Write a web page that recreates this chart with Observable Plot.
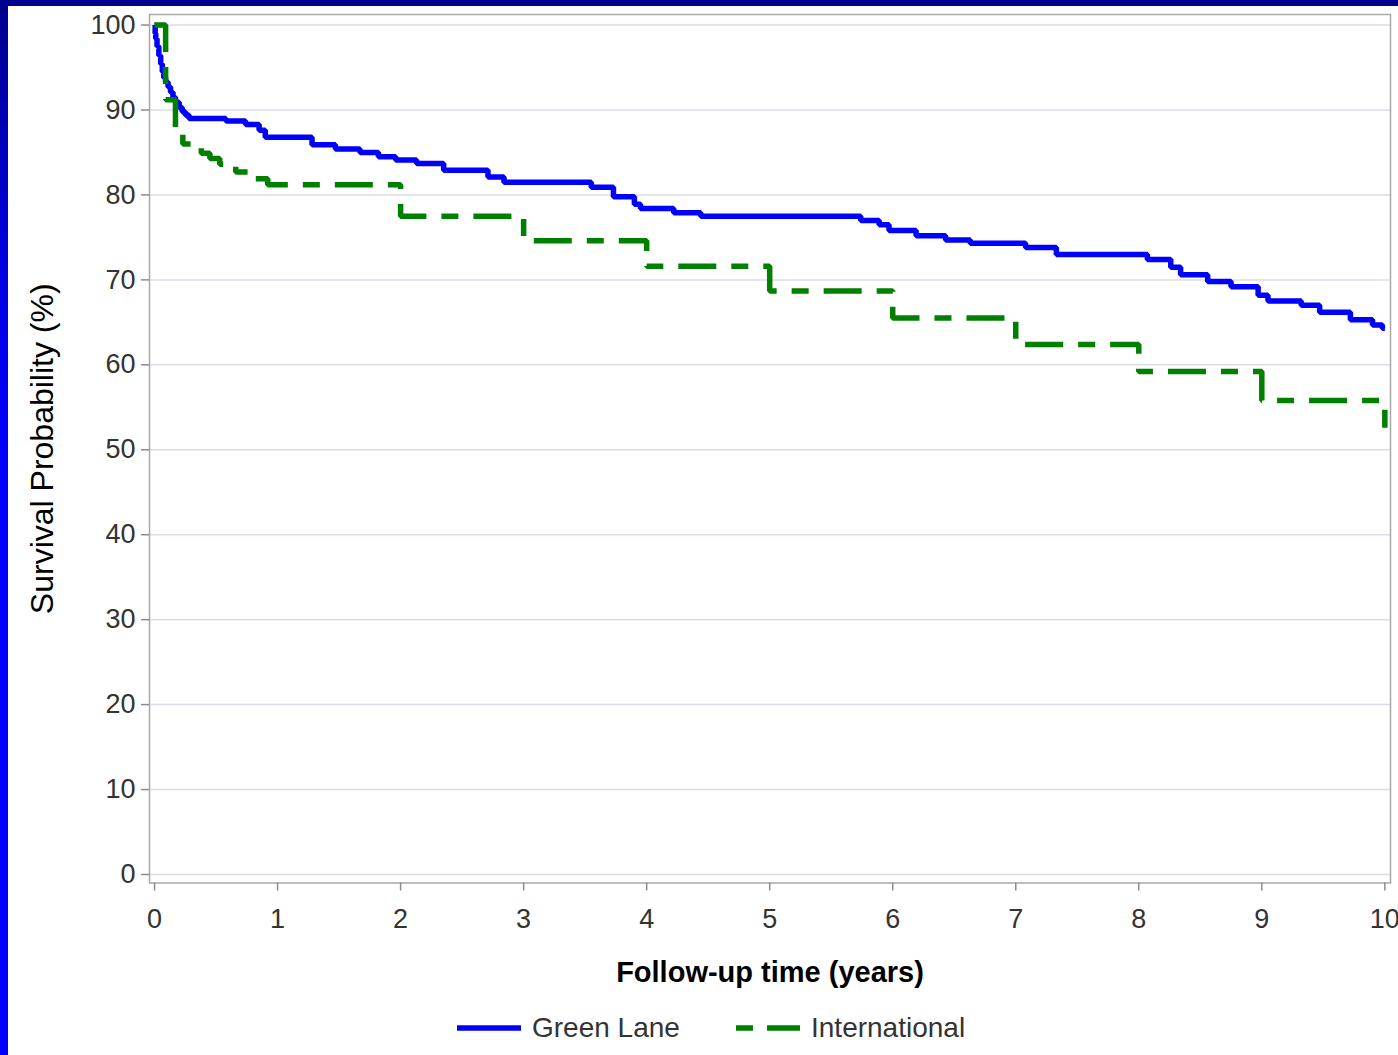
<!DOCTYPE html>
<html><head><meta charset="utf-8">
<script src="https://cdn.jsdelivr.net/npm/d3@7"></script>
<script src="https://cdn.jsdelivr.net/npm/@observablehq/plot@0.6"></script>
<style>
html,body{margin:0;padding:0;}
body{width:1398px;height:1055px;overflow:hidden;position:relative;background:linear-gradient(to bottom,#00008c 0%,#0000e0 25%,#0000ff 45%,#0000ff 100%);font-family:"Liberation Sans",Arial,sans-serif;}
#topbar{position:absolute;left:0;top:0;width:1398px;height:6px;background:#00008c;}
#panel{position:absolute;left:8px;top:6px;width:1390px;height:1049px;background:#fff;overflow:hidden;}
#chart{position:absolute;left:0;top:0;}
#legend{position:absolute;left:0;top:1000px;width:1390px;height:44px;}
.item{position:absolute;top:0;height:44px;line-height:44px;font-size:28px;color:#333;white-space:nowrap;}
.sw{position:absolute;top:0;}
</style></head>
<body>
<div id="topbar"></div>
<div id="panel">
  <div id="chart"></div>
  <div id="legend"></div>
</div>
<script>
// Green Lane Kaplan-Meier estimates (years, % surviving)
const glTime = [0, 0.005, 0.01, 0.02, 0.035, 0.05, 0.063, 0.075, 0.09, 0.11, 0.13, 0.15, 0.17, 0.2, 0.225, 0.25, 0.28, 0.58, 0.74, 0.85, 0.9, 1.28, 1.47, 1.67, 1.82, 1.96, 2.13, 2.35, 2.71, 2.84, 3.55, 3.73, 3.9, 3.95, 4.22, 4.44, 5.74, 5.89, 5.97, 6.19, 6.43, 6.63, 7.08, 7.33, 8.07, 8.26, 8.34, 8.56, 8.75, 8.97, 9.05, 9.32, 9.47, 9.72, 9.9, 9.98, 10];
const glSurv = [100, 99, 98.4, 97.5, 96.4, 95.4, 94.5, 93.8, 93.3, 92.7, 92.1, 91.5, 90.9, 90.3, 89.8, 89.4, 89.0, 88.7, 88.3, 87.6, 86.8, 85.9, 85.4, 85.0, 84.5, 84.1, 83.7, 82.9, 82.1, 81.5, 80.9, 79.8, 78.9, 78.4, 77.9, 77.5, 77.0, 76.5, 75.8, 75.2, 74.7, 74.3, 73.8, 73.0, 72.4, 71.5, 70.6, 69.8, 69.2, 68.2, 67.5, 67.0, 66.2, 65.3, 64.7, 64.3, 64.3];
// International Kaplan-Meier estimates
const intTime = [0, 0.09, 0.17, 0.23, 0.38, 0.45, 0.53, 0.66, 0.8, 0.92, 2.0, 3.0, 4.0, 5.0, 6.0, 7.0, 8.0, 9.0, 10.0];
const intSurv = [100, 91.2, 87.4, 86.0, 84.9, 84.3, 83.6, 82.7, 81.9, 81.2, 77.5, 74.6, 71.6, 68.7, 65.5, 62.4, 59.2, 55.8, 52.6];
const xTicks = [0, 1, 2, 3, 4, 5, 6, 7, 8, 9, 10];
const yTicks = [0, 10, 20, 30, 40, 50, 60, 70, 80, 90, 100];
const seriesNames = ["Green Lane", "International"];
const xLabel = "Follow-up time (years)";
const yLabel = "Survival Probability (%)";

const gl = glTime.map((t, i) => ({t, s: glSurv[i], g: seriesNames[0]}));
const it = intTime.map((t, i) => ({t, s: intSurv[i], g: seriesNames[1]}));
const FONT = '"Liberation Sans", Arial, sans-serif';

const chart = Plot.plot({
  width: 1390, height: 1000,
  marginLeft: 141, marginRight: 8, marginTop: 8, marginBottom: 123.5,
  style: {fontFamily: FONT, fontSize: "27px", color: "#333", background: "transparent", overflow: "visible"},
  x: {domain: [-0.041, 10.046]},
  y: {domain: [-1.0, 101.24]},
  marks: [
    Plot.gridY(yTicks, {stroke: "#dcdcea", strokeOpacity: 1, strokeWidth: 1.5}),
    Plot.frame({stroke: "#a8a8a8", strokeWidth: 1.5}),
    Plot.axisY(yTicks, {tickSize: 8, tickPadding: 6, tickFormat: d3.format("d"), stroke: "#8c8c8c", strokeWidth: 1.5, label: null, fontSize: 27, fill: "#333"}),
    Plot.axisX(xTicks, {tickSize: 8, tickPadding: 18, tickFormat: d3.format("d"), stroke: "#8c8c8c", strokeWidth: 1.5, label: null, fontSize: 27, fill: "#333"}),
    Plot.line(gl, {x: "t", y: "s", curve: "step-after", stroke: "#0000ff", strokeWidth: 5.5, strokeLinejoin: "miter", strokeLinecap: "butt"}),
    Plot.line(it, {x: "t", y: "s", curve: "step-after", stroke: "#008000", strokeWidth: 5.5, strokeDasharray: "38,15,17,15", strokeLinejoin: "miter", strokeLinecap: "butt"}),
    Plot.text([xLabel], {frameAnchor: "bottom", dy: 99, fontWeight: "bold", fontSize: 29, fill: "#000"}),
    Plot.text([yLabel], {frameAnchor: "left", textAnchor: "middle", dx: -107, rotate: -90, fontSize: 32, fill: "#000"})
  ]
});
document.getElementById("chart").appendChild(chart);

// legend
const legend = document.getElementById("legend");
function swatch(left, color, dash) {
  const ns = "http://www.w3.org/2000/svg";
  const s = document.createElementNS(ns, "svg");
  s.setAttribute("width", 64); s.setAttribute("height", 44);
  s.setAttribute("class", "sw");
  s.style.left = left + "px";
  const l = document.createElementNS(ns, "line");
  l.setAttribute("x1", 0); l.setAttribute("x2", 64);
  l.setAttribute("y1", 22); l.setAttribute("y2", 22);
  l.setAttribute("stroke", color); l.setAttribute("stroke-width", 5.5);
  if (dash) l.setAttribute("stroke-dasharray", dash);
  s.appendChild(l);
  legend.appendChild(s);
}
function label(left, txt) {
  const d = document.createElement("div");
  d.className = "item"; d.style.left = left + "px"; d.textContent = txt;
  legend.appendChild(d);
}
swatch(449, "#0000ff", null);
label(524, seriesNames[0]);
swatch(728, "#008000", "17,14,64");
label(803, seriesNames[1]);
</script>
</body></html>
